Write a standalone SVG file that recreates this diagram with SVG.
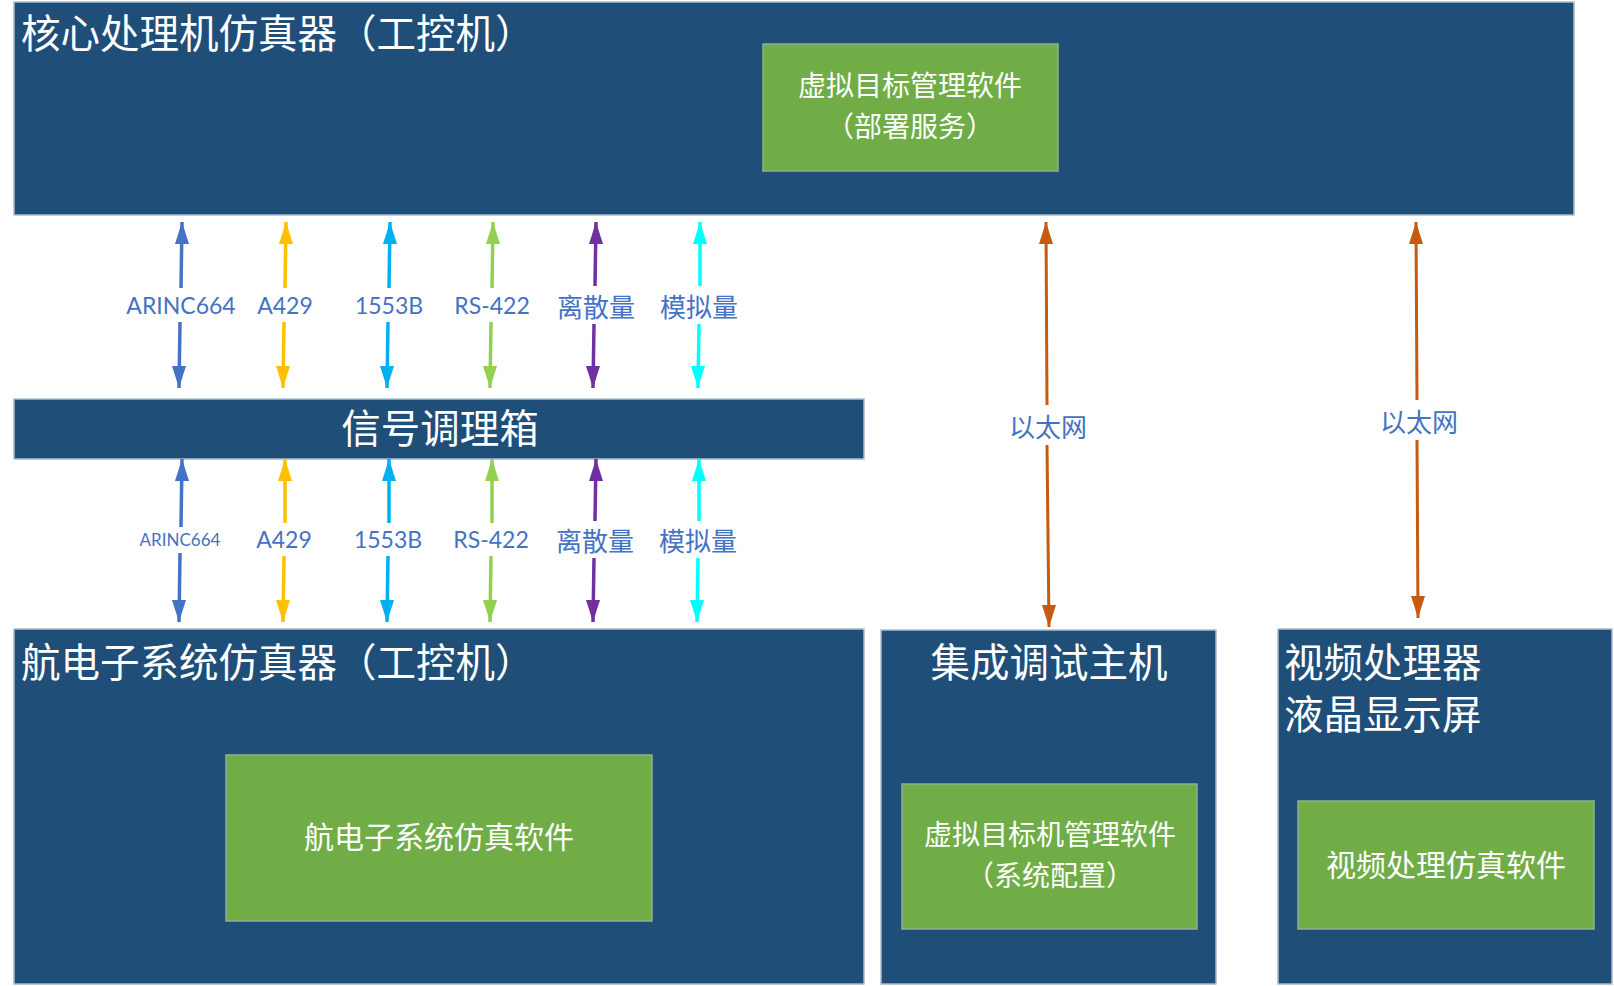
<svg xmlns="http://www.w3.org/2000/svg" width="1614" height="986" viewBox="0 0 1614 986">
<style>
.box{fill:#1F4E79;stroke:#A9BCD0;stroke-width:1.5}
.sw{fill:#70AD47;stroke:#8FB28A;stroke-width:1.5}
.t{font-family:"Noto Sans CJK SC","Noto Sans",sans-serif;fill:#FFFFFF}
.big{font-size:39.5px}
.mid{font-size:30px}
.mid2{font-size:28px}
.lbl{font-family:Lato,"Noto Sans CJK SC",sans-serif;font-size:23px;fill:#4472C4;text-anchor:middle;dominant-baseline:central}
.lblc{font-family:"Noto Sans CJK SC",sans-serif;font-size:26px;fill:#4472C4;text-anchor:middle;dominant-baseline:central}
.ln{stroke-width:3.5;fill:none}
</style>
<g id="core">
<rect class="box" x="14" y="2" width="1560" height="213"/>
<text class="t big" x="21" y="48">核心处理机仿真器（工控机）</text>
<rect class="sw" x="763" y="44" width="295" height="127"/>
<text class="t mid2" text-anchor="middle"><tspan x="910" y="96">虚拟目标管理软件</tspan><tspan x="910" y="137">（部署服务）</tspan></text>
</g>
<g id="signal">
<rect class="box" x="14" y="399" width="850" height="60"/>
<text class="t big" x="440" y="443" text-anchor="middle">信号调理箱</text>
</g>
<g id="avionics">
<rect class="box" x="14" y="629" width="850" height="355"/>
<text class="t big" x="21" y="677">航电子系统仿真器（工控机）</text>
<rect class="sw" x="226" y="755" width="426" height="166"/>
<text class="t mid" x="439" y="848" text-anchor="middle">航电子系统仿真软件</text>
</g>
<g id="debug">
<rect class="box" x="881" y="630" width="335" height="354"/>
<text class="t big" x="1049" y="677" text-anchor="middle">集成调试主机</text>
<rect class="sw" x="902" y="784" width="295" height="145"/>
<text class="t mid2" text-anchor="middle"><tspan x="1050" y="845">虚拟目标机管理软件</tspan><tspan x="1050" y="886">（系统配置）</tspan></text>
</g>
<g id="video">
<rect class="box" x="1278" y="629" width="334" height="355"/>
<text class="t big"><tspan x="1284" y="677">视频处理器</tspan><tspan x="1284" y="729">液晶显示屏</tspan></text>
<rect class="sw" x="1298" y="801" width="296" height="128"/>
<text class="t mid" x="1446" y="876" text-anchor="middle">视频处理仿真软件</text>
</g>
<g id="connectors">
<g class="ln">
<path d="M182,222 L181,288" stroke="#4472C4"/><path d="M180,322 L179,388" stroke="#4472C4"/>
<polygon points="182,222 175,244 189,244" fill="#4472C4"/><polygon points="179,388 172,366 186,366" fill="#4472C4"/>
<path d="M286,222 L285,288" stroke="#FFC000"/><path d="M284,322 L283,388" stroke="#FFC000"/>
<polygon points="286,222 279,244 293,244" fill="#FFC000"/><polygon points="283,388 276,366 290,366" fill="#FFC000"/>
<path d="M390,222 L389,288" stroke="#00B0F0"/><path d="M388,322 L387,388" stroke="#00B0F0"/>
<polygon points="390,222 383,244 397,244" fill="#00B0F0"/><polygon points="387,388 380,366 394,366" fill="#00B0F0"/>
<path d="M493,222 L492,288" stroke="#92D050"/><path d="M491,322 L490,388" stroke="#92D050"/>
<polygon points="493,222 486,244 500,244" fill="#92D050"/><polygon points="490,388 483,366 497,366" fill="#92D050"/>
<path d="M596,222 L595,286" stroke="#7030A0"/><path d="M594,324 L593,388" stroke="#7030A0"/>
<polygon points="596,222 589,244 603,244" fill="#7030A0"/><polygon points="593,388 586,366 600,366" fill="#7030A0"/>
<path d="M700,222 L700,286" stroke="#00FFFF"/><path d="M699,324 L698,388" stroke="#00FFFF"/>
<polygon points="700,222 693,244 707,244" fill="#00FFFF"/><polygon points="698,388 691,366 705,366" fill="#00FFFF"/>
</g>
<text class="lbl" x="181" y="305">ARINC664</text>
<text class="lbl" x="285" y="305">A429</text>
<text class="lbl" x="389" y="305">1553B</text>
<text class="lbl" x="492" y="305">RS-422</text>
<text class="lblc" x="596" y="305">离散量</text>
<text class="lblc" x="699" y="305">模拟量</text>
<g class="ln">
<path d="M182,459 L181,527" stroke="#4472C4"/><path d="M180,553 L179,622" stroke="#4472C4"/>
<polygon points="182,459 175,481 189,481" fill="#4472C4"/><polygon points="179,622 172,600 186,600" fill="#4472C4"/>
<path d="M285,459 L285,523" stroke="#FFC000"/><path d="M284,556 L283,622" stroke="#FFC000"/>
<polygon points="285,459 278,481 292,481" fill="#FFC000"/><polygon points="283,622 276,600 290,600" fill="#FFC000"/>
<path d="M389,459 L389,523" stroke="#00B0F0"/><path d="M388,556 L387,622" stroke="#00B0F0"/>
<polygon points="389,459 382,481 396,481" fill="#00B0F0"/><polygon points="387,622 380,600 394,600" fill="#00B0F0"/>
<path d="M492,459 L492,523" stroke="#92D050"/><path d="M491,556 L490,622" stroke="#92D050"/>
<polygon points="492,459 485,481 499,481" fill="#92D050"/><polygon points="490,622 483,600 497,600" fill="#92D050"/>
<path d="M596,459 L595,521" stroke="#7030A0"/><path d="M594,558 L593,622" stroke="#7030A0"/>
<polygon points="596,459 589,481 603,481" fill="#7030A0"/><polygon points="593,622 586,600 600,600" fill="#7030A0"/>
<path d="M699,459 L699,521" stroke="#00FFFF"/><path d="M698,558 L697,622" stroke="#00FFFF"/>
<polygon points="699,459 692,481 706,481" fill="#00FFFF"/><polygon points="697,622 690,600 704,600" fill="#00FFFF"/>
</g>
<text class="lbl" x="180" y="539" style="font-size:17px">ARINC664</text>
<text class="lbl" x="284" y="539">A429</text>
<text class="lbl" x="388" y="539">1553B</text>
<text class="lbl" x="491" y="539">RS-422</text>
<text class="lblc" x="595" y="539">离散量</text>
<text class="lblc" x="698" y="539">模拟量</text>
<g class="ln" stroke="#C55A11" style="stroke-width:3">
<path d="M1046,222 L1047,405"/><path d="M1047,445 L1049,627"/>
<path d="M1416,222 L1417,400"/><path d="M1417,440 L1418,618"/>
</g>
<polygon points="1046,222 1039,244 1053,244" fill="#C55A11"/>
<polygon points="1049,627 1042,605 1056,605" fill="#C55A11"/>
<polygon points="1416,222 1409,244 1423,244" fill="#C55A11"/>
<polygon points="1418,618 1411,596 1425,596" fill="#C55A11"/>
<text class="lblc" x="1048" y="425">以太网</text>
<text class="lblc" x="1419" y="420">以太网</text>
</g>
</svg>
